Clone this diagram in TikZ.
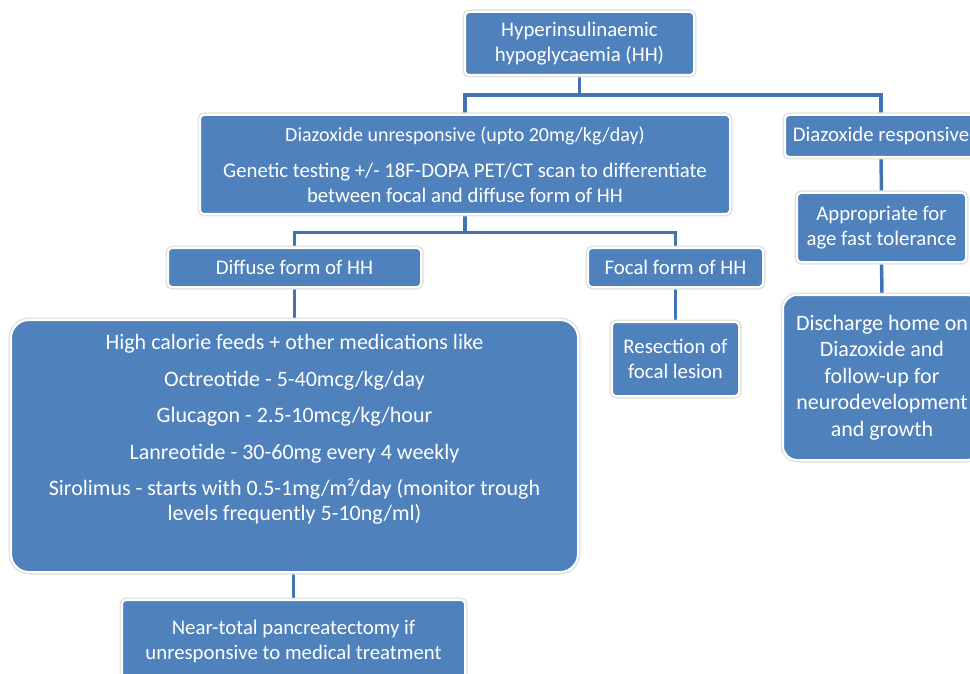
\documentclass[tikz,border=0pt]{standalone}
\usepackage{fontspec}
\setmainfont{Carlito}
\usetikzlibrary{backgrounds}
\definecolor{boxblue}{HTML}{4F81BD}
\definecolor{linkblue}{HTML}{4275B0}
\definecolor{halo}{HTML}{E2E2E2}
\begin{document}
\begin{tikzpicture}[x=1pt,y=-1pt,
  box/.style={rectangle, rounded corners=4pt, fill=boxblue, draw=white, line width=2pt,
    preaction={draw=halo, line width=5pt}, text=white, align=center,
    font=\fontsize{20.8}{25}\selectfont, inner sep=0pt},
  link/.style={draw=linkblue, line width=3.5pt}]
\useasboundingbox (0,0) rectangle (970,674);

\node[box, minimum width=229pt, minimum height=63pt] (hh) at (579.5,43.5)
  {Hyperinsulinaemic\\hypoglycaemia (HH)};
\node[box, minimum width=530pt, minimum height=99pt] (unresp) at (465,164.5)
  {{\fontsize{20}{25}\selectfont Diazoxide unresponsive (upto 20mg/kg/day)}\\[11pt]
   Genetic testing +/- 18F-DOPA PET/CT scan to differentiate\\
   between focal and diffuse form of HH};
\node[box, minimum width=192pt, minimum height=42pt] (resp) at (881,136)
  {Diazoxide responsive};
\node[box, minimum width=169pt, minimum height=69pt] (approp) at (881.5,227.5)
  {Appropriate for\\age fast tolerance};
\node[box, rounded corners=14pt, minimum width=198pt, minimum height=165pt,
  font=\fontsize{22}{26.5}\selectfont] (disch) at (882,377.5)
  {Discharge home on\\Diazoxide and\\follow-up for\\neurodevelopment\\and growth};
\node[box, minimum width=253pt, minimum height=39pt] (diffuse) at (294.5,267.5)
  {Diffuse form of HH};
\node[box, minimum width=175pt, minimum height=39pt] (focal) at (675.5,267.5)
  {Focal form of HH};
\node[box, minimum width=127pt, minimum height=74pt] (resect) at (675.5,359)
  {Resection of\\focal lesion};
\node[box, rounded corners=18pt, minimum width=567pt, minimum height=252pt,
  font=\fontsize{22}{25}\selectfont] (meds) at (294.5,446)
  {High calorie feeds + other medications like\\[11.5pt]
   Octreotide - 5-40mcg/kg/day\\[11.5pt]
   Glucagon - 2.5-10mcg/kg/hour\\[11.5pt]
   Lanreotide - 30-60mg every 4 weekly\\[11.5pt]
   Sirolimus - starts with 0.5-1mg/m²/day (monitor trough\\
   levels frequently 5-10ng/ml)\\[12pt]\mbox{}};
\node[box, minimum width=343pt, minimum height=83pt] (pancr) at (293.5,641.5)
  {Near-total pancreatectomy if\\unresponsive to medical treatment};

\coordinate (j1) at (579.5,95);
\coordinate (j2) at (465,232.5);
\begin{scope}[on background layer]
  \draw[link] (hh.south) -- (j1);
  \draw[link] (unresp.north) |- (j1) -| (resp.north);
  \draw[link] (unresp.south) -- (j2);
  \draw[link] (diffuse.north) |- (j2) -| (focal.north);
  \draw[link] (resp.south) -- (approp.north);
  \draw[link] (approp.south) -- (disch.north);
  \draw[link] (diffuse.south) -- (meds.north -| diffuse.south);
  \draw[link] (focal.south) -- (resect.north);
  \draw[link] (meds.south -| pancr.north) -- (pancr.north);
\end{scope}
\end{tikzpicture}
\end{document}
